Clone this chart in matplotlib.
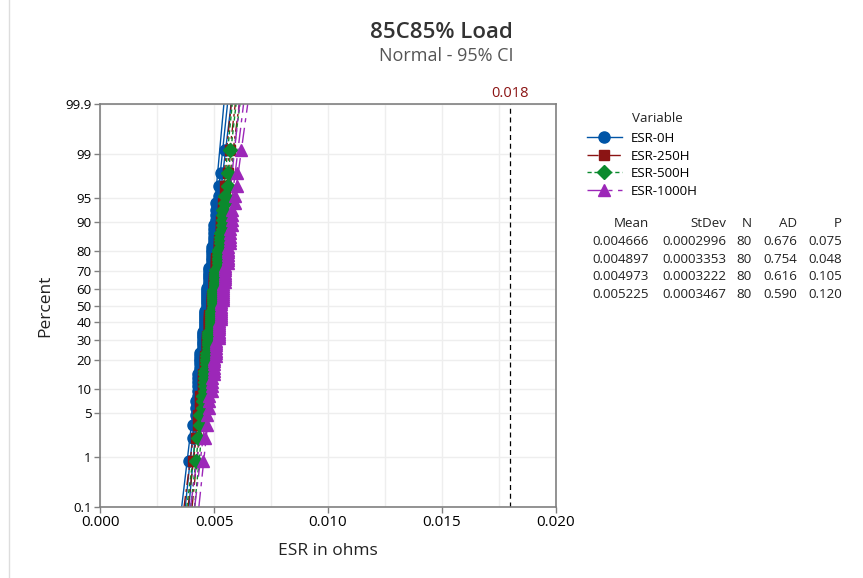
from statistics import NormalDist
import numpy as np
import matplotlib
matplotlib.use('Agg')
from matplotlib import pyplot as plt
from matplotlib.lines import Line2D

plt.rcParams['font.family'] = ['Open Sans', 'DejaVu Sans']

# ESR readings (ohms) grouped as value -> count, 80 parts per test point
variables = ['ESR-0H', 'ESR-250H', 'ESR-500H', 'ESR-1000H']
esr_0h_vals = [0.0039, 0.0041, 0.0042, 0.0043, 0.0044, 0.0045, 0.0046, 0.0047,
               0.0048, 0.0049, 0.0050, 0.0051, 0.0052, 0.0053, 0.0055]
esr_0h_cnts = [1, 2, 3, 6, 7, 9, 10, 11, 9, 8, 6, 4, 2, 1, 1]
esr_250h_vals = [0.0041, 0.0042, 0.0043, 0.0044, 0.0045, 0.0046, 0.0047, 0.0048, 0.0049,
                 0.0050, 0.0051, 0.0052, 0.0053, 0.0054, 0.0055, 0.0056, 0.0057]
esr_250h_cnts = [1, 1, 2, 3, 5, 6, 8, 10, 9, 9, 8, 6, 5, 3, 2, 1, 1]
esr_500h_vals = [0.0042, 0.0043, 0.0044, 0.0045, 0.0046, 0.0047, 0.0048, 0.0049,
                 0.0050, 0.0051, 0.0052, 0.0053, 0.0054, 0.0055, 0.0056, 0.0057]
esr_500h_cnts = [1, 1, 2, 3, 6, 6, 9, 10, 10, 9, 8, 5, 5, 2, 2, 1]
esr_1000h_vals = [0.0045, 0.0046, 0.0047, 0.0048, 0.0049, 0.0050, 0.0051, 0.0052, 0.0053,
                  0.0054, 0.0055, 0.0056, 0.0057, 0.0058, 0.0059, 0.0060, 0.0062]
esr_1000h_cnts = [1, 1, 2, 3, 4, 6, 7, 9, 9, 9, 8, 7, 5, 4, 2, 2, 1]

# summary table as reported
means = [0.004666, 0.004897, 0.004973, 0.005225]
stdevs = [0.0002996, 0.0003353, 0.0003222, 0.0003467]
n_obs = [80, 80, 80, 80]
ad_vals = [0.676, 0.754, 0.616, 0.590]
p_vals = [0.075, 0.048, 0.105, 0.120]

ref_value = 0.018
pct_ticks = [0.1, 1, 5, 10, 20, 30, 40, 50, 60, 70, 80, 90, 95, 99, 99.9]

colors = ['#0054A6', '#8B1414', '#0B8A2E', '#9C27B8']
markers = ['o', 's', 'D', '^']
msizes = [8, 7, 7, 8]
dashes = [None, (8, 3, 2, 3), (3, 2), (11, 4, 3, 4)]

nd = NormalDist()


def z_of(p):
    return nd.inv_cdf(p)


fig = plt.figure(figsize=(8.63, 5.78), dpi=100)
ax = fig.add_axes([100 / 863, 71 / 578, 456 / 863, 403 / 578])

zlo, zhi = z_of(0.001), z_of(0.999)
zz = np.linspace(zlo, zhi, 200)

series = [(esr_0h_vals, esr_0h_cnts), (esr_250h_vals, esr_250h_cnts),
          (esr_500h_vals, esr_500h_cnts), (esr_1000h_vals, esr_1000h_cnts)]

for k, (vals, cnts) in enumerate(series):
    x = np.sort(np.repeat(vals, cnts))
    n = len(x)
    mu, sd = means[k], stdevs[k]
    # fitted line and 95% CI
    fit = mu + zz * sd
    se = sd * np.sqrt((1 + zz ** 2 / 2) / n)
    kw = dict(color=colors[k], lw=1.0, zorder=2)
    for line in (fit, fit - 1.96 * se, fit + 1.96 * se):
        l, = ax.plot(line, zz, **kw)
        if dashes[k]:
            l.set_dashes(dashes[k])
    ranks = [(i - 0.3) / (n + 0.4) for i in range(1, n + 1)]
    ax.plot(x, [z_of(r) for r in ranks], ls='none', marker=markers[k],
            ms=msizes[k], color=colors[k], mec=colors[k], zorder=3 + k)

ax.axvline(ref_value, color='black', lw=0.9, ls=(0, (4, 3)), zorder=2)
ax.text(ref_value, zhi + 0.05, '0.018', color='#8B1414', fontsize=10.5,
        ha='center', va='bottom')

ax.set_xlim(0, 0.02)
ax.set_ylim(zlo, zhi)
ax.set_xticks([0.0, 0.005, 0.010, 0.015, 0.020])
ax.set_xticklabels(['0.000', '0.005', '0.010', '0.015', '0.020'], fontsize=11)
ax.set_xticks(np.arange(0.0025, 0.02, 0.005), minor=True)
ax.set_yticks([z_of(p / 100) for p in pct_ticks])
ax.set_yticklabels([('%g' % p) for p in pct_ticks], fontsize=9.5)
ax.grid(True, which='both', color='#EEEEEE', lw=1.0, zorder=0)
ax.set_axisbelow(True)
ax.tick_params(which='minor', length=0)
ax.tick_params(which='major', color='#808080', length=4, width=1, pad=2)
for s in ax.spines.values():
    s.set_color('#808080')
    s.set_linewidth(1.2)

ax.set_xlabel('ESR in ohms', fontsize=12.5, color='#222222', labelpad=9)
ax.set_ylabel('Percent', fontsize=12.5, color='#222222', labelpad=9)

fig.text(441 / 863, 1 - 32 / 578, '85C85% Load', fontsize=16, color='#333333',
         ha='center', va='center', fontweight='semibold')
fig.text(446 / 863, 1 - 56 / 578, 'Normal - 95% CI', fontsize=13, color='#555555',
         ha='center', va='center')

# legend
handles = []
for k in range(4):
    h = Line2D([0], [0], color=colors[k], lw=1.0, marker=markers[k],
               ms=msizes[k], mec=colors[k])
    if dashes[k]:
        h.set_dashes(dashes[k])
    handles.append(h)
fig.text(632 / 863, 1 - 119 / 578, 'Variable', fontsize=9.6, ha='left',
         va='center', color='#222222')
leg = fig.legend(handles, variables, loc='upper left',
                 bbox_to_anchor=(587 / 863, 1 - 132 / 578), frameon=False,
                 fontsize=9.6, handlelength=2.6, borderpad=0,
                 labelspacing=0.34, borderaxespad=0, handletextpad=0.7)

# summary table
cols = ['Mean', 'StDev', 'N', 'AD', 'P']
col_x = [649, 726, 752, 797, 842]
rows = [['%.6f' % means[i], '%.7f' % stdevs[i], '%d' % n_obs[i],
         '%.3f' % ad_vals[i], '%.3f' % p_vals[i]] for i in range(4)]
for j, c in enumerate(cols):
    fig.text(col_x[j] / 863, 1 - 224 / 578, c, fontsize=9.6, ha='right',
             va='center', color='#222222')
    for i, r in enumerate(rows):
        fig.text(col_x[j] / 863, 1 - (241.5 + 17.7 * i) / 578, r[j], fontsize=9.6,
                 ha='right', va='center', color='#222222')

fig.add_artist(Line2D([9 / 863, 9 / 863], [0, 1], color='#DDDDDD', lw=1,
                      transform=fig.transFigure))

fig.savefig('out.png', dpi=100)
